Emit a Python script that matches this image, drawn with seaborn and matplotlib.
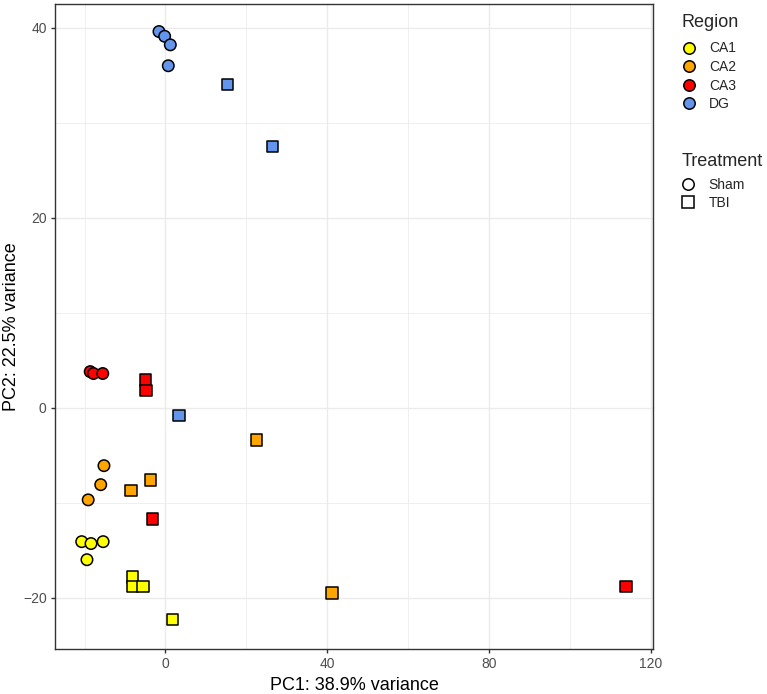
import seaborn as sns
import pandas as pd
import matplotlib.pyplot as plt
from matplotlib.lines import Line2D
from matplotlib.ticker import MultipleLocator

# PCA coordinates
pc1_ca1_sham = [-20.7, -18.4, -15.4, -19.4]
pc2_ca1_sham = [-14.1, -14.3, -14.1, -16.0]
pc1_ca1_tbi = [-8.1, -8.1, -5.5, 1.7]
pc2_ca1_tbi = [-17.8, -18.8, -18.8, -22.3]

pc1_ca2_sham = [-15.2, -16.0, -19.1]
pc2_ca2_sham = [-6.1, -8.1, -9.7]
pc1_ca2_tbi = [-3.7, -8.5, 41.2, 22.5]
pc2_ca2_tbi = [-7.6, -8.7, -19.5, -3.4]

pc1_ca3_sham = [-18.6, -17.8, -15.5]
pc2_ca3_sham = [3.8, 3.6, 3.6]
pc1_ca3_tbi = [-4.9, -4.8, -3.2, 113.8]
pc2_ca3_tbi = [2.9, 1.8, -11.7, -18.8]

pc1_dg_sham = [-1.6, -0.2, 1.2, 0.7]
pc2_dg_sham = [39.6, 39.1, 38.2, 36.0]
pc1_dg_tbi = [15.3, 26.4, 3.4]
pc2_dg_tbi = [34.0, 27.5, -0.8]

regions = ['CA1', 'CA2', 'CA3', 'DG']
treatments = ['Sham', 'TBI']
region_colors = ['#FFFF00', '#FFA500', '#FF0000', '#6495ED']

groups = [
    ('CA1', 'Sham', pc1_ca1_sham, pc2_ca1_sham), ('CA1', 'TBI', pc1_ca1_tbi, pc2_ca1_tbi),
    ('CA2', 'Sham', pc1_ca2_sham, pc2_ca2_sham), ('CA2', 'TBI', pc1_ca2_tbi, pc2_ca2_tbi),
    ('CA3', 'Sham', pc1_ca3_sham, pc2_ca3_sham), ('CA3', 'TBI', pc1_ca3_tbi, pc2_ca3_tbi),
    ('DG', 'Sham', pc1_dg_sham, pc2_dg_sham), ('DG', 'TBI', pc1_dg_tbi, pc2_dg_tbi),
]
rows = []
for reg, trt, xs, ys in groups:
    for a, b in zip(xs, ys):
        rows.append({'PC1': a, 'PC2': b, 'Region': reg, 'Treatment': trt})
df = pd.DataFrame(rows)

sns.set_style('white')
plt.rcParams['font.family'] = ['Liberation Sans', 'DejaVu Sans']

W, H = 767, 694
fig = plt.figure(figsize=(W / 100, H / 100), dpi=100)
ax = fig.add_axes([55 / W, 1 - 649 / H, (653 - 55) / W, (649 - 4) / H])

palette = dict(zip(regions, region_colors))
sns.scatterplot(data=df, x='PC1', y='PC2', hue='Region', style='Treatment',
                hue_order=regions, style_order=treatments,
                markers={'Sham': 'o', 'TBI': 's'}, palette=palette,
                s=68, edgecolor='black', linewidth=1.1, legend=False,
                ax=ax, zorder=3)

ax.set_xlim(-27.3, 120.5)
ax.set_ylim(-25.4, 42.5)
ax.xaxis.set_major_locator(MultipleLocator(40))
ax.xaxis.set_minor_locator(MultipleLocator(20))
ax.yaxis.set_major_locator(MultipleLocator(20))
ax.yaxis.set_minor_locator(MultipleLocator(10))
ax.grid(which='major', color='#EBEBEB', linewidth=1.0, zorder=0)
ax.grid(which='minor', color='#EBEBEB', linewidth=0.55, zorder=0)
ax.set_axisbelow(True)
for sp in ax.spines.values():
    sp.set_color('#333333')
    sp.set_linewidth(1.0)
ax.tick_params(which='major', length=3, width=1, color='#333333',
               labelcolor='#4D4D4D', labelsize=10, pad=3, bottom=True, left=True)
ax.tick_params(which='minor', length=0)
ax.set_xlabel('PC1: 38.9% variance', fontsize=13, color='black', labelpad=4)
ax.set_ylabel('PC2: 22.5% variance', fontsize=13, color='black')
ax.yaxis.set_label_coords(-0.058, 0.5)

# legends: titles as text, keys as untitled legends
fig.text(681.5 / W, 1 - 27 / H, 'Region', fontsize=13, ha='left', va='baseline')
fig.text(681.5 / W, 1 - 165.5 / H, 'Treatment', fontsize=13, ha='left', va='baseline')

reg_handles = [Line2D([], [], marker='o', linestyle='', markersize=8.2,
                      markerfacecolor=c, markeredgecolor='black', markeredgewidth=1.1)
               for c in region_colors]
fig.legend(reg_handles, regions, loc='center left',
           bbox_to_anchor=(682 / W, 1 - 76.3 / H), frameon=False,
           fontsize=10, handlelength=1.0, handletextpad=0.94,
           labelspacing=0.33, borderpad=0, borderaxespad=0)

trt_handles = [Line2D([], [], marker=m, linestyle='', markersize=8.2,
                      markerfacecolor='none', markeredgecolor='black', markeredgewidth=1.1)
               for m in ['o', 's']]
fig.legend(trt_handles, treatments, loc='center left',
           bbox_to_anchor=(681.5 / W, 1 - 193.9 / H), frameon=False,
           fontsize=10, handlelength=1.0, handletextpad=0.94,
           labelspacing=0.27, borderpad=0, borderaxespad=0)

fig.savefig('out.png', dpi=100)
